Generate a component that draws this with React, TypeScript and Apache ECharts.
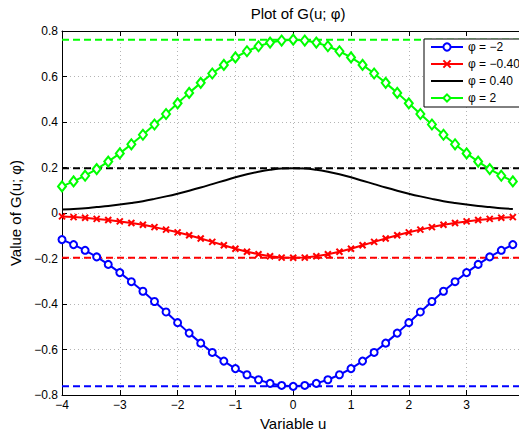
import React, { useEffect, useRef } from "react";
import * as echarts from "echarts";

const uValues = [
  -4, -3.8, -3.6, -3.4, -3.2, -3, -2.8, -2.6, -2.4, -2.2, -2, -1.8, -1.6, -1.4, -1.2, -1, -0.8, -0.6, -0.4, -0.2,
  0, 0.2, 0.4, 0.6, 0.8, 1, 1.2, 1.4, 1.6, 1.8, 2, 2.2, 2.4, 2.6, 2.8, 3, 3.2, 3.4, 3.6, 3.8,
];

const gPhiMinus2 = [
  -0.117, -0.139, -0.164, -0.193, -0.226, -0.262, -0.302, -0.344, -0.389, -0.435, -0.482, -0.528, -0.572, -0.613,
  -0.651, -0.684, -0.711, -0.733, -0.749, -0.758, -0.762, -0.758, -0.749, -0.733, -0.711, -0.684, -0.651, -0.613,
  -0.572, -0.528, -0.482, -0.435, -0.389, -0.344, -0.302, -0.262, -0.226, -0.193, -0.164, -0.139,
];

const gPhiMinus04 = [
  -0.015, -0.018, -0.021, -0.026, -0.031, -0.037, -0.044, -0.052, -0.062, -0.073, -0.085, -0.098, -0.112, -0.127,
  -0.142, -0.157, -0.17, -0.181, -0.19, -0.196, -0.197, -0.196, -0.19, -0.181, -0.17, -0.157, -0.142, -0.127,
  -0.112, -0.098, -0.085, -0.073, -0.062, -0.052, -0.044, -0.037, -0.031, -0.026, -0.021, -0.018,
];

const gPhi04 = [
  0.015, 0.018, 0.021, 0.026, 0.031, 0.037, 0.044, 0.052, 0.062, 0.073, 0.085, 0.098, 0.112, 0.127, 0.142, 0.157,
  0.17, 0.181, 0.19, 0.196, 0.197, 0.196, 0.19, 0.181, 0.17, 0.157, 0.142, 0.127, 0.112, 0.098, 0.085, 0.073, 0.062,
  0.052, 0.044, 0.037, 0.031, 0.026, 0.021, 0.018,
];

const gPhi2 = [
  0.117, 0.139, 0.164, 0.193, 0.226, 0.262, 0.302, 0.344, 0.389, 0.435, 0.482, 0.528, 0.572, 0.613, 0.651, 0.684,
  0.711, 0.733, 0.749, 0.758, 0.762, 0.758, 0.749, 0.733, 0.711, 0.684, 0.651, 0.613, 0.572, 0.528, 0.482, 0.435,
  0.389, 0.344, 0.302, 0.262, 0.226, 0.193, 0.164, 0.139,
];

// peak levels (dashed reference lines)
const peakLevels = [-0.762, -0.197, 0.197, 0.762];
const seriesNames = ["φ = −2", "φ = −0.40", "φ = 0.40", "φ = 2"];
const seriesColors = ["#0000ff", "#ff0000", "#000000", "#00ff00"];

const xTicks = { min: -4, max: 4, interval: 1 };
const yTicks = { min: -0.8, max: 0.8, interval: 0.2 };

const FONT = "Liberation Sans";

function fmt(v: number): string {
  const r = Math.round(v * 10) / 10;
  const s = Math.abs(r) < 1e-9 ? "0" : String(r);
  return s.replace("-", "\u2212");
}

export default function App() {
  const ref = useRef<HTMLDivElement>(null);
  useEffect(() => {
    if (!ref.current) return;
    const chart = echarts.init(ref.current, undefined, { renderer: "svg" });
    const pairs = (ys: number[]) => uValues.map((u, i) => [u, ys[i]]);
    const curves = [gPhiMinus2, gPhiMinus04, gPhi04, gPhi2];
    const symbols = ["emptyCircle", "path://M0 0L10 10M10 0L0 10", "none", "emptyDiamond"];
    const symbolSizes: any[] = [7, 6, 0, [8, 10]];

    const splitLine = { show: true, lineStyle: { color: "#b4b4b4", type: [1, 3], width: 1 } };
    const axisLine = { show: true, onZero: false, lineStyle: { color: "#000", width: 1 } };
    const axisTick = { show: true, inside: true, length: 5, lineStyle: { color: "#000" } };
    const labelStyle = { color: "#000", fontFamily: FONT, fontSize: 12 };

    const option: any = {
      animation: false,
      backgroundColor: "#ffffff",
      title: {
        text: "Plot of G(u; φ)",
        left: 293,
        top: 1,
        textAlign: "center",
        textStyle: { color: "#000", fontFamily: FONT, fontSize: 15, fontWeight: "normal" },
      },
      grid: { left: 62, right: 10.6, top: 31, bottom: 37, outerBoundsMode: "none" },
      legend: {
        data: seriesNames.map((n, i) => (i === 2 ? { name: n, itemStyle: { opacity: 0 } } : { name: n })),
        orient: "vertical",
        left: 424,
        top: 39,
        itemWidth: 32,
        itemHeight: 9,
        itemGap: 5,
        padding: [2, 16, 3, 6],
        backgroundColor: "#fff",
        borderColor: "#000",
        borderWidth: 1,
        borderRadius: 0,
        textStyle: { color: "#000", fontFamily: FONT, fontSize: 12 },
        z: 10,
      },
      xAxis: [
        {
          type: "value",
          ...xTicks,
          position: "bottom",
          name: "Variable u",
          nameLocation: "middle",
          nameGap: 14,
          nameTextStyle: { color: "#000", fontFamily: FONT, fontSize: 15 },
          axisLine,
          axisTick,
          splitLine,
          axisLabel: { ...labelStyle, margin: 4, formatter: fmt, showMaxLabel: false },
        },
        {
          type: "value",
          ...xTicks,
          position: "top",
          axisLine,
          axisTick,
          splitLine: { show: false },
          axisLabel: { show: false },
        },
      ],
      yAxis: [
        {
          type: "value",
          ...yTicks,
          position: "left",
          name: "Value of G(u; φ)",
          nameLocation: "middle",
          nameGap: 32,
          nameRotate: 90,
          nameTextStyle: { color: "#000", fontFamily: FONT, fontSize: 15 },
          axisLine,
          axisTick,
          splitLine,
          axisLabel: { ...labelStyle, margin: 4, formatter: fmt },
        },
        {
          type: "value",
          ...yTicks,
          position: "right",
          axisLine,
          axisTick,
          splitLine: { show: false },
          axisLabel: { show: false },
        },
      ],
      series: [
        ...peakLevels.map((lv, i) => ({
          type: "line",
          name: "peak" + i,
          data: [
            [xTicks.min, lv],
            [xTicks.max, lv],
          ],
          symbol: "none",
          silent: true,
          lineStyle: { color: seriesColors[i], width: 2, type: [7, 4] },
          z: 2,
        })),
        ...curves.map((ys, i) => ({
          type: "line",
          name: seriesNames[i],
          data: pairs(ys),
          smooth: i === 2 ? 0.4 : false,
          symbol: symbols[i],
          symbolSize: symbolSizes[i],
          showSymbol: i !== 2,
          lineStyle: { color: seriesColors[i], width: 2 },
          itemStyle: { color: seriesColors[i], borderColor: seriesColors[i], borderWidth: i === 1 ? 2 : 1.5 },
          z: 3,
        })),
      ],
    };
    chart.setOption(option);
    return () => chart.dispose();
  }, []);
  return (
    <div style={{ position: "fixed", left: 0, top: 0, width: 519, height: 432, overflow: "hidden", background: "#fff" }}>
      <div ref={ref} style={{ width: 535, height: 432 }} />
    </div>
  );
}
